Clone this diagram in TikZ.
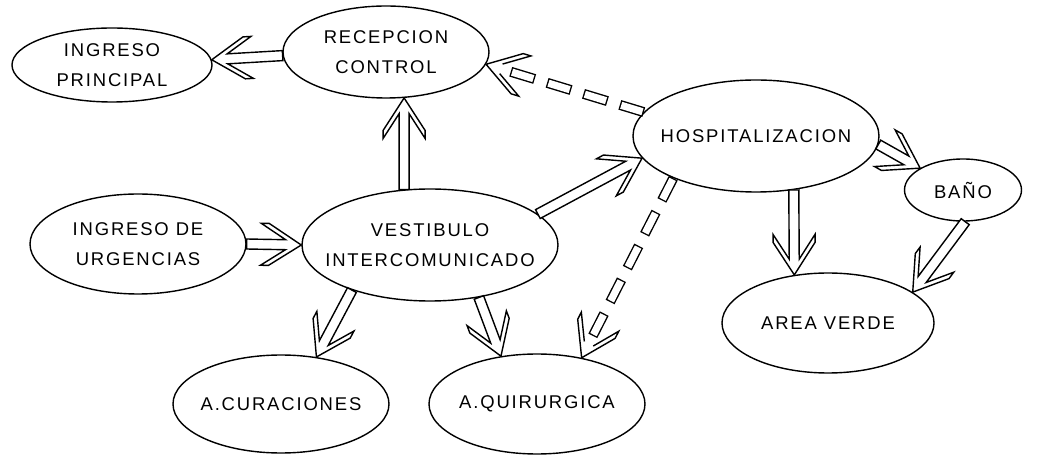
\documentclass[tikz,border=0pt]{standalone}
\usepackage{fontspec}
\setsansfont{Liberation Sans}[LetterSpace=10]
\usetikzlibrary{calc,shapes.geometric}

\begin{document}
\begin{tikzpicture}[
    font=\sffamily\fontsize{10.5}{17}\selectfont,
    area/.style={draw, ellipse, line width=0.8pt, inner sep=0pt,
                 label={[align=center]center:#1}},
    % hollow arrow: shaft + chevron head as one outline
    flow/.style={draw, fill=white, line width=0.8pt, to path={
        let \p1=(\tikztostart), \p2=(\tikztotarget),
            \n1={atan2(\y2-\y1,\x2-\x1)}, \n2={veclen(\x2-\x1,\y2-\y1)} in
        (\p1) ++(\n1+90:0.10cm) -- ++(\n1:\n2-0.3148cm)
        -- ++(\n1+147.13:0.5896cm) -- ++(\n1:0.16cm)
        -- ++(\n1-32.87:0.7739cm) -- ++(\n1-147.13:0.7739cm)
        -- ++(\n1+180:0.16cm) -- ++(\n1+32.87:0.5896cm)
        -- ++(\n1+180:\n2-0.3148cm) -- cycle}},
    % chevron head alone (open at the shaft)
    flowHead/.style={draw, fill=white, line width=0.8pt, to path={
        let \p1=(\tikztostart), \p2=(\tikztotarget),
            \n1={atan2(\y2-\y1,\x2-\x1)} in
        (\p2) ++(\n1+180:0.3148cm) ++(\n1+90:0.10cm)
        -- ++(\n1+147.13:0.5896cm) -- ++(\n1:0.16cm)
        -- ++(\n1-32.87:0.7739cm) -- ++(\n1-147.13:0.7739cm)
        -- ++(\n1+180:0.16cm) -- ++(\n1+32.87:0.5896cm)}},
    % dashed hollow shaft, stopping at the head's notch
    dashShaft/.style={draw, line width=5.69pt, dash pattern=on 14.23pt off 7.40pt,
        postaction={draw=white, line width=4.09pt,
                    dash pattern=on 12.63pt off 9.00pt, dash phase=20.83pt},
        to path={
        let \p1=(\tikztostart), \p2=(\tikztotarget),
            \n1={atan2(\y2-\y1,\x2-\x1)}, \n2={veclen(\x2-\x1,\y2-\y1)} in
        (\p1) -- ++(\n1:\n2-0.3148cm)}},
  ]

  \useasboundingbox (0,0) rectangle (21.04,-9.10);

  % ---- upper row --------------------------------------------------------
  \node[area={INGRESO\\PRINCIPAL}, minimum width=4.00cm, minimum height=1.48cm]
        (ingPrincipal) at (2.24,-1.30) {};
  \node[area={RECEPCION\\CONTROL}, minimum width=4.12cm, minimum height=1.84cm]
        (recepcion) at (7.72,-1.04) {};
  \node[area={HOSPITALIZACION}, minimum width=4.92cm, minimum height=2.24cm]
        (hospital) at (15.12,-2.72) {};
  \node[area={BAÑO}, minimum width=2.34cm, minimum height=1.24cm]
        (bano) at (19.26,-3.80) {};

  % ---- middle row -------------------------------------------------------
  \node[area={INGRESO DE\\URGENCIAS}, minimum width=4.32cm, minimum height=2.00cm]
        (ingUrgencias) at (2.76,-4.88) {};
  \node[area={VESTIBULO\\INTERCOMUNICADO}, minimum width=5.12cm, minimum height=2.24cm]
        (vestibulo) at (8.60,-4.90) {};
  \node[area={AREA VERDE}, minimum width=4.24cm, minimum height=2.00cm]
        (areaVerde) at (16.56,-6.46) {};

  % ---- lower row --------------------------------------------------------
  \node[area={A.CURACIONES}, minimum width=4.32cm, minimum height=1.96cm]
        (curaciones) at (5.62,-8.08) {};
  \node[area={A.QUIRURGICA}, minimum width=4.32cm, minimum height=2.00cm]
        (quirurgica) at (10.74,-8.08) {};

  % ---- solid connections ------------------------------------------------
  \draw[flow] (recepcion.182) to (ingPrincipal.3);
  \draw[flow] (vestibulo.115) to (vestibulo.115 |- recepcion.-68);
  \draw[flow] (ingUrgencias.east) to (vestibulo.west);
  \draw[flow] (vestibulo.16) to (hospital.191);
  \draw[flow] (vestibulo.210) to (curaciones.53);
  \draw[flow] (vestibulo.-47) to (quirurgica.127);
  \draw[flow] (hospital.-55) to (areaVerde.125);
  \draw[flow] (hospital.-4) to (bano.153);
  \draw[flow] (bano.-86) to (areaVerde.20);

  % ---- dashed connections -----------------------------------------------
  \draw[dashShaft] (hospital.168) to (recepcion.-7);
  \draw[flowHead]  (hospital.168) to (recepcion.-7);
  \draw[dashShaft] (hospital.207) to (quirurgica.46);
  \draw[flowHead]  (hospital.207) to (quirurgica.46);

\end{tikzpicture}
\end{document}
